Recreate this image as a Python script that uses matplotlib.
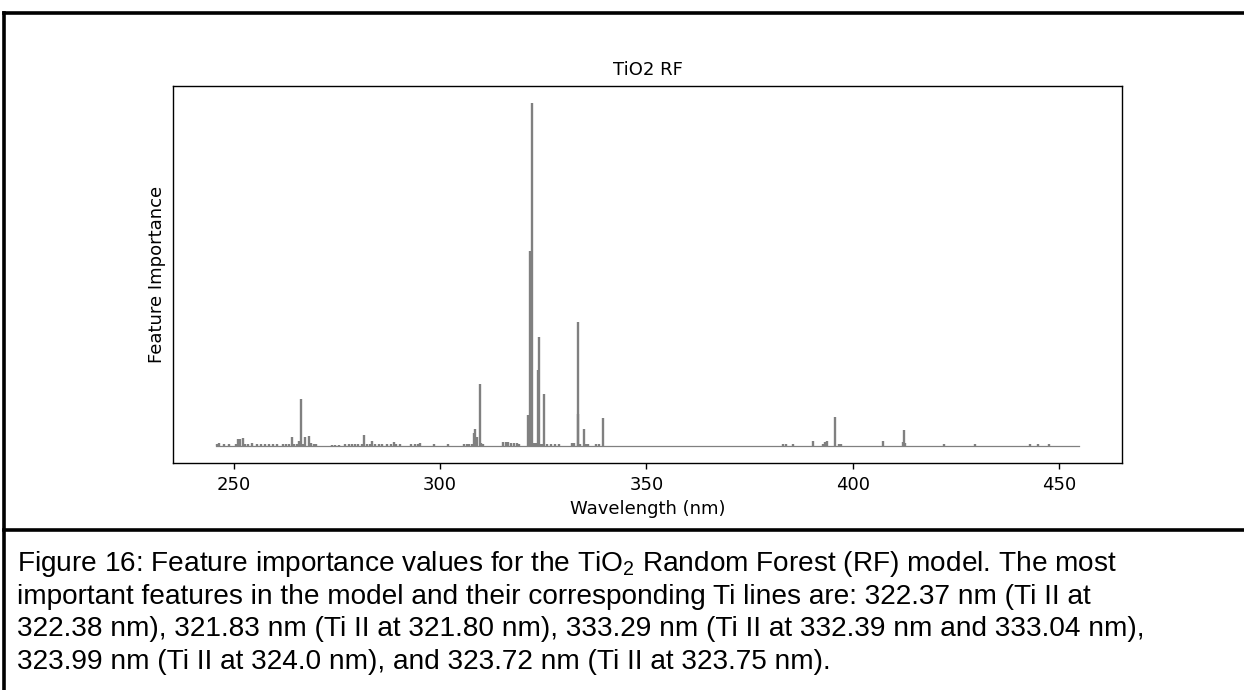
import matplotlib
matplotlib.use("Agg")
import matplotlib.pyplot as plt
from matplotlib.lines import Line2D

# Feature importances (spikes), wavelength in nm
wavelengths = [
    245.9, 246.4, 247.6, 248.8, 250.5, 251.0, 251.6, 252.1, 252.7, 253.5,
    254.5, 255.6, 256.5, 257.5, 258.5, 259.6, 260.4, 261.9, 262.6, 263.3,
    264.1, 264.6, 265.2, 265.7, 266.2, 266.8, 267.2, 268.2, 268.8, 269.4,
    269.9, 273.8, 274.6, 275.4, 277.0, 277.8, 278.6, 279.4, 280.2, 281.0,
    281.6, 282.2, 283.1, 283.5, 284.3, 285.2, 286.0, 287.2, 288.0, 288.7,
    289.4, 290.2, 293.0, 293.8, 294.6, 295.2, 298.6, 302.0, 305.7, 306.4,
    307.0, 307.6, 308.1, 308.4, 309.0, 309.6, 310.0, 310.5, 315.3, 315.9,
    316.4, 317.2, 317.9, 318.5, 319.1, 321.3, 321.83, 322.37, 322.8, 323.2,
    323.72, 323.99, 324.4, 324.9, 325.2, 325.8, 326.9, 327.8, 328.8, 331.9,
    332.5, 333.29, 333.5, 334.0, 334.8, 335.3, 335.9, 337.8, 338.5, 339.4,
    383.2, 383.9, 385.4, 390.3, 392.7, 393.2, 393.7, 395.8, 396.6, 397.2,
    407.3, 412.2, 412.4, 412.6, 422.1, 429.6, 442.9, 444.9, 447.6,
]
importance = [
    0.0004, 0.0009, 0.0006, 0.0006, 0.0006, 0.0021, 0.0021, 0.0022, 0.0006, 0.0004,
    0.0007, 0.0005, 0.0006, 0.0004, 0.0005, 0.0005, 0.0004, 0.0004, 0.0004, 0.0004,
    0.0025, 0.0004, 0.0004, 0.0014, 0.0136, 0.0006, 0.0027, 0.0028, 0.0008, 0.0006,
    0.0004, 0.0003, 0.0003, 0.0003, 0.0004, 0.0005, 0.0006, 0.0006, 0.0005, 0.0006,
    0.0031, 0.0004, 0.0006, 0.0014, 0.0005, 0.0004, 0.0005, 0.0004, 0.0006, 0.0012,
    0.0006, 0.0004, 0.0005, 0.0005, 0.0006, 0.0008, 0.0005, 0.0004, 0.0004, 0.0005,
    0.0005, 0.0006, 0.0038, 0.0050, 0.0025, 0.0180, 0.0008, 0.0005, 0.0012, 0.0010,
    0.0012, 0.0008, 0.0009, 0.0007, 0.0006, 0.0090, 0.0570, 0.1000, 0.0008, 0.0007,
    0.0220, 0.0317, 0.0006, 0.0005, 0.0150, 0.0005, 0.0005, 0.0005, 0.0005, 0.0007,
    0.0007, 0.0360, 0.0093, 0.0006, 0.0050, 0.0005, 0.0005, 0.0006, 0.0006, 0.0080,
    0.0004, 0.0004, 0.0004, 0.0014, 0.0006, 0.0012, 0.0015, 0.0084, 0.0005, 0.0005,
    0.0014, 0.0010, 0.0046, 0.0008, 0.0004, 0.0004, 0.0004, 0.0004, 0.0005,
]
# spectrometer range (baseline of the plot)
wl_start, wl_end = 245.7, 454.8

caption = [
    "Figure 16: Feature importance values for the TiO$_2$ Random Forest (RF) model. The most",
    "important features in the model and their corresponding Ti lines are: 322.37 nm (Ti II at",
    "322.38 nm), 321.83 nm (Ti II at 321.80 nm), 333.29 nm (Ti II at 332.39 nm and 333.04 nm),",
    "323.99 nm (Ti II at 324.0 nm), and 323.72 nm (Ti II at 323.75 nm).",
]

plt.rcParams["mathtext.fontset"] = "custom"
plt.rcParams["mathtext.rm"] = "Liberation Sans"
plt.rcParams["mathtext.it"] = "Liberation Sans:italic"

fig = plt.figure(figsize=(12.44, 6.90), dpi=100)
ax = fig.add_axes([173 / 1244, 1 - 463 / 690, 949 / 1244, 377 / 690])

ax.plot([wl_start, wl_end], [0, 0], color="gray", linewidth=0.9)
ax.vlines(wavelengths, 0, importance, color="gray", linewidth=1.7)

ax.set_yticks([])
ax.set_title("TiO2 RF", fontsize=13, pad=8)
ax.set_xlabel("Wavelength (nm)", fontsize=13, labelpad=5)
ax.set_ylabel("Feature Importance", fontsize=13, labelpad=5)
ax.tick_params(axis="x", labelsize=13, length=4.5, width=1.0, pad=4.5)
for sp in ax.spines.values():
    sp.set_linewidth(1.0)

# document frame around figure and caption
for xs, ys in [([4, 1244], [13, 13]), ([4, 4], [13, 690]), ([4, 1244], [530, 530])]:
    fig.add_artist(Line2D([x / 1244 for x in xs], [1 - y / 690 for y in ys],
                          transform=fig.transFigure, color="black", linewidth=2.6))

for i, line in enumerate(caption):
    fig.text(17 / 1244, 1 - (564 + 32.7 * i) / 690, line, fontsize=20.2,
             family="Liberation Sans", va="center", ha="left")

fig.savefig("out.png", dpi=100)
